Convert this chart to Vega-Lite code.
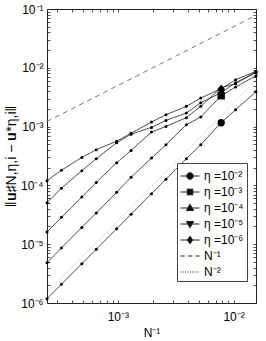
{
  "$schema": "https://vega.github.io/schema/vega-lite/v6.json",
  "width": 209,
  "height": 294,
  "autosize": {"type": "none"},
  "padding": {"left": 47, "top": 9, "right": 10, "bottom": 38},
  "background": "white",
  "config": {
    "view": {"stroke": "#222", "strokeWidth": 1},
    "font": "Liberation Sans",
    "axis": {
      "domain": false, "grid": false, "tickColor": "#222", "tickSize": -3, "tickWidth": 0.8,
      "labelFont": "Liberation Sans", "labelFontSize": 12, "labelColor": "black",
      "titleFont": "Liberation Sans", "titleFontSize": 12, "titleFontWeight": "normal", "titleColor": "black",
      "labelOverlap": false, "labelFlush": false
    },
    "legend": {
      "strokeColor": "#444", "strokeWidth": 1, "fillColor": "white", "padding": 3, "rowPadding": 0,
      "symbolSize": 361, "symbolStrokeWidth": 1,
      "symbolOpacity": 1, "labelFont": "Liberation Sans", "labelFontSize": 12, "labelColor": "black",
      "labelOffset": 4, "cornerRadius": 0
    }
  },
  "datasets": {
    "err": [
      {"Ninv": 0.000244140625, "e2": 1.183e-6, "e3": 4.85e-6, "e4": 1.61e-5, "e5": 5.08e-5, "e6": 1.2e-4},
      {"Ninv": 0.000325520833, "e2": 2.087e-6, "e3": 8.62e-6, "e4": 2.86e-5, "e5": 8.96e-5, "e6": 1.81e-4},
      {"Ninv": 0.00048828125, "e2": 4.66e-6, "e3": 1.93e-5, "e4": 6.35e-5, "e5": 1.778e-4, "e6": 2.99e-4},
      {"Ninv": 0.000651041667, "e2": 8.22e-6, "e3": 3.39e-5, "e4": 1.125e-4, "e5": 2.845e-4, "e6": 4.05e-4},
      {"Ninv": 0.0009765625, "e2": 1.835e-5, "e3": 7.66e-5, "e4": 2.43e-4, "e5": 5.32e-4, "e6": 5.65e-4},
      {"Ninv": 0.001302083333, "e2": 3.237e-5, "e3": 1.379e-4, "e4": 3.94e-4, "e5": 7.42e-4, "e6": 7.72e-4},
      {"Ninv": 0.001953125, "e2": 7.22e-5, "e3": 2.92e-4, "e4": 8.09e-4, "e5": 9.69e-4, "e6": 1.197e-3},
      {"Ninv": 0.002604166667, "e2": 1.275e-4, "e3": 4.92e-4, "e4": 1.008e-3, "e5": 1.275e-3, "e6": 1.59e-3},
      {"Ninv": 0.00390625, "e2": 2.845e-4, "e3": 1.077e-3, "e4": 1.417e-3, "e5": 1.70e-3, "e6": 2.21e-3},
      {"Ninv": 0.005208333333, "e2": 4.92e-4, "e3": 1.457e-3, "e4": 2.21e-3, "e5": 2.55e-3, "e6": 3.06e-3},
      {"Ninv": 0.0078125, "e2": 1.165e-3, "e3": 3.35e-3, "e4": 4.59e-3, "e5": 3.77e-3, "e6": 4.41e-3},
      {"Ninv": 0.010416666667, "e2": 1.938e-3, "e3": 4.72e-3, "e4": 5.37e-3, "e5": 5.58e-3, "e6": 6.28e-3},
      {"Ninv": 0.015625, "e2": 3.92e-3, "e3": 7.34e-3, "e4": 8.58e-3, "e5": 8.26e-3, "e6": 8.69e-3}
    ],
    "ref": [
      {"ref": "N⁻¹", "Ninv": 0.000244140625, "err": 1.22e-3},
      {"ref": "N⁻¹", "Ninv": 0.015625, "err": 0.078},
      {"ref": "N⁻²", "Ninv": 0.000244140625, "err": 1.5e-6},
      {"ref": "N⁻²", "Ninv": 0.015625, "err": 6.13e-3}
    ],
    "legend": [
      {"label": "η =10⁻²"}, {"label": "η =10⁻³"}, {"label": "η =10⁻⁴"}, {"label": "η =10⁻⁵"},
      {"label": "η =10⁻⁶"}, {"label": "N⁻¹"}, {"label": "N⁻²"}
    ]
  },
  "layer": [
    {
      "data": {"name": "err"},
      "transform": [{"fold": ["e2", "e3", "e4", "e5", "e6"], "as": ["eta", "err"]}],
      "mark": {"type": "line", "color": "#222", "strokeWidth": 0.8,
               "point": {"filled": true, "size": 9, "color": "black", "opacity": 1}},
      "encoding": {
        "x": {"field": "Ninv", "type": "quantitative",
              "scale": {"type": "log", "domain": [0.000244140625, 0.015625], "nice": false},
              "axis": {"orient": "bottom", "title": "N⁻¹", "labelPadding": 11, "titlePadding": 5,
                       "values": [0.0003,0.0004,0.0005,0.0006,0.0007,0.0008,0.0009,0.001,0.002,0.003,0.004,0.005,0.006,0.007,0.008,0.009,0.01],
                       "labelExpr": "datum.value == 0.001 ? '10⁻³' : datum.value == 0.01 ? '10⁻²' : ''"}},
        "y": {"field": "err", "type": "quantitative",
              "scale": {"type": "log", "domain": [0.000001, 0.1], "nice": false},
              "axis": {"orient": "left", "title": "‖𝐮♯N,η,i − 𝐮*η,i‖", "titleFontSize": 14, "labelPadding": 7, "titlePadding": 2,
                       "values": [0.000001,0.000002,0.000003,0.000004,0.000005,0.000006,0.000007,0.000008,0.000009,
                                  0.00001,0.00002,0.00003,0.00004,0.00005,0.00006,0.00007,0.00008,0.00009,
                                  0.0001,0.0002,0.0003,0.0004,0.0005,0.0006,0.0007,0.0008,0.0009,
                                  0.001,0.002,0.003,0.004,0.005,0.006,0.007,0.008,0.009,
                                  0.01,0.02,0.03,0.04,0.05,0.06,0.07,0.08,0.09,0.1],
                       "labelExpr": "indexof([0.000001,0.00001,0.0001,0.001,0.01,0.1], datum.value) >= 0 ? '10' + ['⁻⁶','⁻⁵','⁻⁴','⁻³','⁻²','⁻¹'][indexof([0.000001,0.00001,0.0001,0.001,0.01,0.1], datum.value)] : ''"}},
        "detail": {"field": "eta"}
      }
    },
    {
      "data": {"name": "ref"},
      "mark": {"type": "line", "strokeWidth": 0.8},
      "encoding": {
        "x": {"field": "Ninv", "type": "quantitative",
              "axis": {"orient": "top", "labels": false, "title": null,
                       "values": [0.0003,0.0004,0.0005,0.0006,0.0007,0.0008,0.0009,0.001,0.002,0.003,0.004,0.005,0.006,0.007,0.008,0.009,0.01]}},
        "y": {"field": "err", "type": "quantitative",
              "axis": {"orient": "right", "labels": false, "title": null,
                       "values": [0.000001,0.000002,0.000003,0.000004,0.000005,0.000006,0.000007,0.000008,0.000009,
                                  0.00001,0.00002,0.00003,0.00004,0.00005,0.00006,0.00007,0.00008,0.00009,
                                  0.0001,0.0002,0.0003,0.0004,0.0005,0.0006,0.0007,0.0008,0.0009,
                                  0.001,0.002,0.003,0.004,0.005,0.006,0.007,0.008,0.009,
                                  0.01,0.02,0.03,0.04,0.05,0.06,0.07,0.08,0.09,0.1]}},
        "strokeDash": {"field": "ref", "type": "nominal", "scale": {"domain": ["N⁻¹", "N⁻²"], "range": [[5, 4], [1, 2]]}, "legend": null},
        "color": {"field": "ref", "type": "nominal", "scale": {"domain": ["N⁻¹", "N⁻²"], "range": ["#555", "#999"]}, "legend": null}
      }
    },
    {
      "data": {"name": "err"},
      "transform": [
        {"fold": ["e2", "e3", "e4", "e5", "e6"], "as": ["eta", "err"]},
        {"filter": "datum.Ninv == 0.0078125"}
      ],
      "mark": {"type": "point", "filled": true, "size": 55, "color": "black", "opacity": 1},
      "encoding": {
        "x": {"field": "Ninv", "type": "quantitative", "axis": null},
        "y": {"field": "err", "type": "quantitative", "axis": null},
        "shape": {"field": "eta", "type": "nominal",
                  "scale": {"domain": ["e2", "e3", "e4", "e5", "e6"], "range": ["circle", "square", "triangle-up", "triangle-down", "diamond"]},
                  "legend": null}
      }
    },
    {
      "data": {"name": "legend"},
      "transform": [{"filter": "false"}],
      "mark": {"type": "point", "filled": true, "fill": "black", "stroke": "#222", "strokeWidth": 1, "opacity": 1},
      "encoding": {
        "x": {"field": "Ninv", "type": "quantitative", "axis": null},
        "y": {"field": "err", "type": "quantitative", "axis": null},
        "shape": {"field": "label", "type": "nominal",
                  "scale": {"domain": ["η =10⁻²", "η =10⁻³", "η =10⁻⁴", "η =10⁻⁵", "η =10⁻⁶", "N⁻¹", "N⁻²"],
                            "range": [
                              "M-1,0H1M0.35,0A0.35,0.35,0,1,1,-0.35,0A0.35,0.35,0,1,1,0.35,0Z",
                              "M-1,0H1M-0.3,-0.3H0.3V0.3H-0.3Z",
                              "M-1,0H1M0,-0.4L0.38,0.27H-0.38Z",
                              "M-1,0H1M0,0.4L0.38,-0.27H-0.38Z",
                              "M-1,0H1M0,-0.4L0.28,0L0,0.4L-0.28,0Z",
                              "M-1,0H-0.55M-0.2,0H0.25M0.6,0H1",
                              "M-1,0H-0.9M-0.75,0H-0.65M-0.5,0H-0.4M-0.25,0H-0.15M0,0H0.1M0.25,0H0.35M0.5,0H0.6M0.75,0H0.85"
                            ]},
                  "legend": {"orient": "none", "legendX": 130, "legendY": 154, "title": null}}
      }
    }
  ],
  "resolve": {"axis": {"x": "independent", "y": "independent"}, "scale": {"shape": "independent"}}
}
